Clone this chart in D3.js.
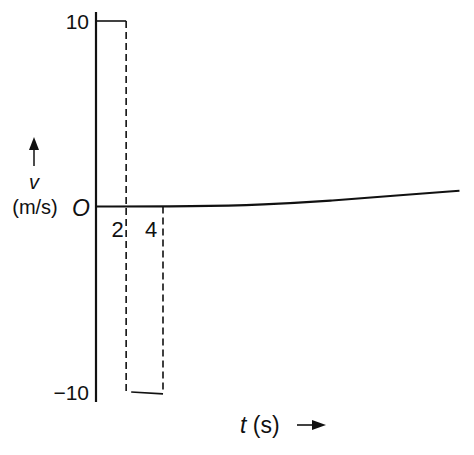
<!DOCTYPE html>
<html><head><meta charset="utf-8">
<script src="https://cdn.jsdelivr.net/npm/d3@7"></script>
<style>body{margin:0;background:#fff}text{font-family:Arial,"Liberation Sans",sans-serif;fill:#111}</style>
</head><body>
<svg id="c" width="474" height="455"></svg>
<script>
// velocity pulses (t in s, v in m/s)
var upPulse = [[0, 10], [1.8, 10]];
var upDrop = [[1.8, 10], [1.8, -10]];
var downPulse = [[2.1, -10], [4.0, -10.1]];
var downRise = [[4.0, 0], [4.0, -10]];
// time axis as drawn (slightly bowed in the print)
var axisT = [0, 6, 10, 14, 18, 21.7];
var axisV = [0, 0, 0.1, 0.3, 0.6, 0.85];
var yTicks = [10, -10];
var xTicks = [2, 4];

var svg = d3.select("#c");
var x = d3.scaleLinear().domain([0, 4]).range([96, 163]);
var y = d3.scaleLinear().domain([-10, 10]).range([392, 21]);
var line = d3.line().x(function(d) { return x(d[0]); }).y(function(d) { return y(d[1]); });

// v axis
svg.append("line").attr("x1", 96).attr("x2", 96).attr("y1", 12).attr("y2", 402)
    .attr("stroke", "#111").attr("stroke-width", 2.2);
// t axis
svg.append("path").datum(axisT.map(function(t, i) { return [t, axisV[i]]; }))
    .attr("d", d3.line().curve(d3.curveBasis).x(function(d) { return x(d[0]); }).y(function(d) { return y(d[1]); }))
    .attr("fill", "none").attr("stroke", "#111").attr("stroke-width", 2.2);

[upPulse, downPulse].forEach(function(p) {
    svg.append("path").datum(p).attr("d", line).attr("fill", "none").attr("stroke", "#111").attr("stroke-width", 1.6);
});
[upDrop, downRise].forEach(function(p) {
    svg.append("path").datum(p).attr("d", line).attr("fill", "none").attr("stroke", "#111")
        .attr("stroke-width", 1.6).attr("stroke-dasharray", "7,4");
});

svg.selectAll(".yt").data(yTicks).enter().append("text")
    .attr("x", 89).attr("y", function(d) { return y(d) + 8; })
    .attr("text-anchor", "end").attr("font-size", 21)
    .text(function(d) { return d < 0 ? "\u2212" + Math.abs(d) : d; });
svg.selectAll(".xt").data(xTicks).enter().append("text")
    .attr("x", function(d) { return x(d) - 12; }).attr("y", y(0) + 30)
    .attr("text-anchor", "middle").attr("font-size", 22).text(function(d) { return d; });
svg.append("text").attr("x", 81).attr("y", y(0) + 9).attr("text-anchor", "middle")
    .attr("font-size", 23).attr("font-style", "italic").text("O");

// v label with arrow
svg.append("line").attr("x1", 34).attr("x2", 34).attr("y1", 166).attr("y2", 146)
    .attr("stroke", "#111").attr("stroke-width", 1.5);
svg.append("path").attr("d", "M29,150 L34,137 L39,150 Z").attr("fill", "#111");
svg.append("text").attr("x", 34).attr("y", 189).attr("text-anchor", "middle")
    .attr("font-size", 20).attr("font-style", "italic").text("v");
svg.append("text").attr("x", 35).attr("y", 214).attr("text-anchor", "middle")
    .attr("font-size", 20).text("(m/s)");

// t label with arrow
var tl = svg.append("text").attr("x", 240).attr("y", 433).attr("font-size", 23);
tl.append("tspan").attr("font-style", "italic").text("t");
tl.append("tspan").text(" (s)");
svg.append("line").attr("x1", 297).attr("x2", 316).attr("y1", 425).attr("y2", 425)
    .attr("stroke", "#111").attr("stroke-width", 1.6);
svg.append("path").attr("d", "M312,420 L326,425 L312,430 Z").attr("fill", "#111");
</script>
</body></html>
